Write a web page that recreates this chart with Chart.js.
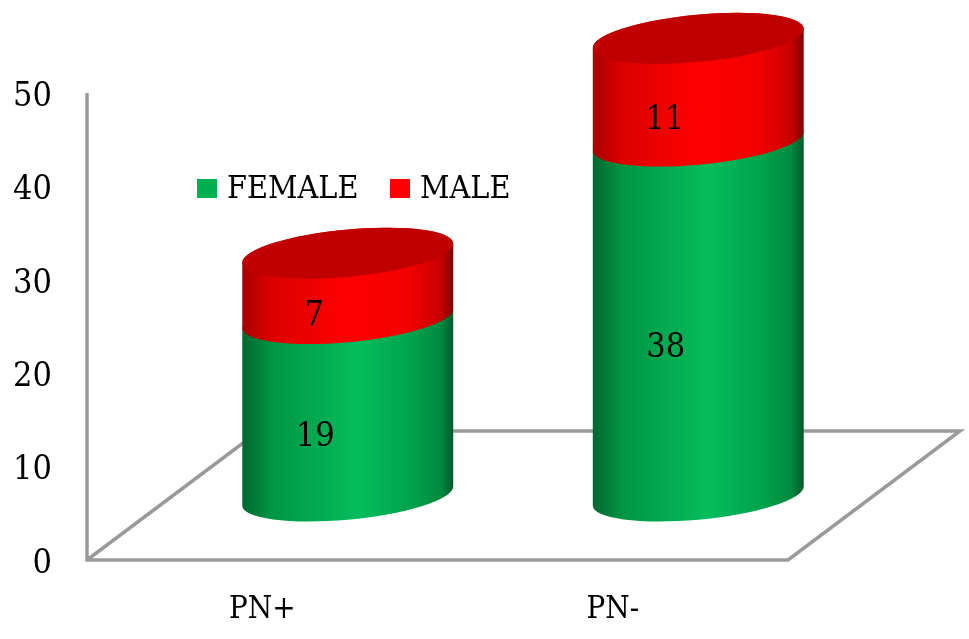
<!DOCTYPE html>
<html>
<head>
<meta charset="utf-8">
<style>
  html, body { margin: 0; padding: 0; background: #fff; }
  #wrap { width: 969px; height: 639px; }
</style>
<script src="https://cdn.jsdelivr.net/npm/chart.js@4"></script>
</head>
<body>
<div id="wrap"><canvas id="cylinderChart" width="969" height="639"></canvas></div>
<script>
const categories = ['PN+', 'PN-'];
const femaleValues = [19, 38];
const maleValues = [7, 11];
const axisMax = 50;
const axisStep = 10;

const FONT = '"DejaVu Serif Condensed", "DejaVu Serif", serif';
const GRAY = '#9a9a9a';

// fake 3D depth: how far the cylinders and the back of the floor sit from the axis plane
const DEPTH_X = 85.5;
const DEPTH_Y = -64;
const FLOOR_DX = 172;
const FLOOR_DY = -129;

const TILT = -5.4 * Math.PI / 180;
const MINOR = 23.6;

function sideGradient(ctx, left, right, stops) {
  const g = ctx.createLinearGradient(left, 0, right, 0);
  stops.forEach(([at, color]) => g.addColorStop(at, color));
  return g;
}

const greenStops = [[0, '#00672f'], [0.14, '#009644'], [0.55, '#05bd5c'], [0.8, '#00a34c'], [0.94, '#008a40'], [1, '#005a28']];
const redStops = [[0, '#a80000'], [0.14, '#dc0000'], [0.5, '#ff0000'], [0.8, '#f00000'], [0.94, '#c80000'], [1, '#800000']];

// one slice of a cylinder: front arc of the lower ellipse, up the side, back over the upper ellipse
function drawBody(ctx, cx, lowY, highY, major, fill) {
  const t0 = Math.atan2(-MINOR * Math.sin(TILT), major * Math.cos(TILT));
  ctx.beginPath();
  ctx.ellipse(cx, lowY, major, MINOR, TILT, t0, t0 + Math.PI);
  ctx.ellipse(cx, highY, major, MINOR, TILT, t0 + Math.PI, t0 + 2 * Math.PI);
  ctx.closePath();
  ctx.fillStyle = fill;
  ctx.fill();
}

const floorPlugin = {
  id: 'floor',
  beforeDatasetsDraw(chart) {
    const { ctx, chartArea: a } = chart;
    ctx.save();
    ctx.strokeStyle = GRAY;
    ctx.lineWidth = 3.5;
    ctx.beginPath();
    ctx.moveTo(a.left, a.top);
    ctx.lineTo(a.left, a.bottom);
    ctx.lineTo(a.right, a.bottom);
    ctx.lineTo(a.right + FLOOR_DX, a.bottom + FLOOR_DY);
    ctx.lineTo(a.left + FLOOR_DX, a.bottom + FLOOR_DY);
    ctx.lineTo(a.left, a.bottom);
    ctx.stroke();
    ctx.restore();
  },
};

const cylinderPlugin = {
  id: 'cylinders',
  // the plain bars are only used for layout, the cylinders replace them
  beforeDatasetDraw() {
    return false;
  },
  afterDatasetsDraw(chart) {
    const { ctx } = chart;
    const female = chart.getDatasetMeta(0).data;
    const male = chart.getDatasetMeta(1).data;
    ctx.save();
    female.forEach((bar, i) => {
      const top = male[i];
      const cx = bar.x + DEPTH_X;
      const major = bar.width / 2 + 0.4;
      const left = cx - bar.width / 2;
      const right = cx + bar.width / 2;
      drawBody(ctx, cx, bar.base + DEPTH_Y, bar.y + DEPTH_Y, major, sideGradient(ctx, left, right, greenStops));
      drawBody(ctx, cx, top.base + DEPTH_Y, top.y + DEPTH_Y, major, sideGradient(ctx, left, right, redStops));
      ctx.beginPath();
      ctx.ellipse(cx, top.y + DEPTH_Y, major, MINOR, TILT, 0, Math.PI * 2);
      ctx.fillStyle = '#c00000';
      ctx.fill();

      ctx.fillStyle = '#000';
      ctx.font = '34px ' + FONT;
      ctx.textAlign = 'center';
      ctx.textBaseline = 'middle';
      ctx.fillText(femaleValues[i], bar.x + 53, (bar.y + bar.base) / 2 - 34);
      ctx.fillText(maleValues[i], top.x + 52, (top.y + top.base) / 2 - 34);
    });
    ctx.restore();
  },
};

// built-in legend can't do the tight box/text gap, so it's drawn here from the datasets
const legendSpots = [197, 390];
const legendPlugin = {
  id: 'legendRow',
  afterDraw(chart) {
    const { ctx } = chart;
    ctx.save();
    ctx.font = '32px ' + FONT;
    ctx.textAlign = 'left';
    ctx.textBaseline = 'middle';
    chart.data.datasets.forEach((ds, i) => {
      ctx.fillStyle = ds.backgroundColor;
      ctx.fillRect(legendSpots[i], 179, 20, 19);
      ctx.fillStyle = '#000';
      ctx.fillText(ds.label, legendSpots[i] + 30, 190);
    });
    ctx.restore();
  },
};

new Chart(document.getElementById('cylinderChart'), {
  type: 'bar',
  data: {
    labels: categories,
    datasets: [
      { label: 'FEMALE', data: femaleValues, backgroundColor: '#00b050', borderWidth: 0, barThickness: 211 },
      { label: 'MALE', data: maleValues, backgroundColor: '#ff0000', borderWidth: 0, barThickness: 211 },
    ],
  },
  plugins: [floorPlugin, cylinderPlugin, legendPlugin],
  options: {
    responsive: false,
    animation: false,
    layout: { padding: { top: 93, right: 181 } },
    scales: {
      x: {
        stacked: true,
        grid: { display: false },
        border: { display: false },
        ticks: { color: '#000', font: { family: FONT, size: 31 }, padding: 23, maxRotation: 0 },
        afterFit(scale) { scale.height = 79; },
      },
      y: {
        stacked: true,
        min: 0,
        max: axisMax,
        grid: { display: false },
        border: { display: false },
        ticks: { stepSize: axisStep, color: '#000', font: { family: FONT, size: 34 }, padding: 27, labelOffset: 4 },
        afterFit(scale) { scale.width = 87; },
      },
    },
    plugins: {
      tooltip: { enabled: false },
      legend: { display: false },
    },
  },
});
</script>
</body>
</html>
